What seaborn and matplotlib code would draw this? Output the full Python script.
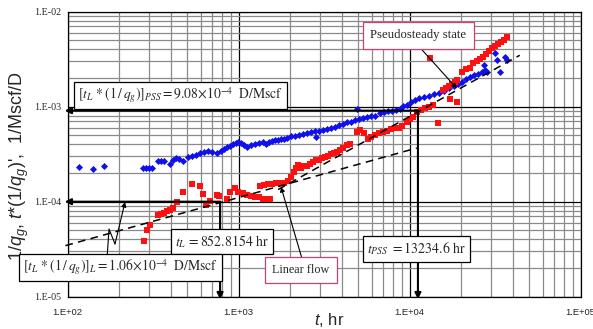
import numpy as np
import matplotlib
matplotlib.use("Agg")
import matplotlib.pyplot as plt
import matplotlib.ticker as mticker
import seaborn as sns

# ==========================================
# Data (t in hr, 1/Mscf/D)
# ==========================================

# 1/qg  (blue diamonds)
t_inv = [116, 141, 164, 277, 287, 299, 309, 337, 351, 366, 396, 413, 430, 448, 472,
         505, 533, 563, 594, 627, 661, 698, 744, 788, 820, 855, 890, 927, 958, 991,
         1031, 1074, 1119, 1180, 1245, 1314, 1387, 1445, 1503, 1566, 1630, 1698, 1767,
         1841, 1915, 2023, 2134, 2254, 2377, 2507, 2649, 2793, 2831, 2951, 3112, 3281,
         3467, 3656, 3864, 4074, 4295, 4539, 4786, 4898, 5058, 5333, 5623, 5943, 6266,
         6699, 7079, 7464, 7888, 8318, 8770, 9141, 9638, 10180, 10740, 11320, 12120,
         12970, 13870, 14850, 15870, 16980, 18160, 19180, 20230, 21330, 22540, 23770,
         25060, 26490, 27540, 28310, 27160, 31480, 32360, 33730, 36060, 37070]
inv_qg = [2.30e-4, 2.21e-4, 2.38e-4, 2.26e-4, 2.26e-4, 2.26e-4, 2.26e-4, 2.68e-4, 2.68e-4,
          2.68e-4, 2.49e-4, 2.78e-4, 2.85e-4, 2.82e-4, 2.70e-4, 2.98e-4, 3.03e-4, 3.10e-4,
          3.22e-4, 3.30e-4, 3.38e-4, 3.34e-4, 3.23e-4, 3.42e-4, 3.59e-4, 3.72e-4, 3.86e-4,
          4.05e-4, 4.18e-4, 4.25e-4, 4.10e-4, 3.91e-4, 3.79e-4, 3.91e-4, 4.00e-4, 4.10e-4,
          4.20e-4, 4.05e-4, 4.25e-4, 4.36e-4, 4.41e-4, 4.46e-4, 4.52e-4, 4.62e-4, 4.65e-4,
          4.88e-4, 4.92e-4, 5.04e-4, 5.16e-4, 5.28e-4, 5.42e-4, 5.55e-4, 4.83e-4, 5.61e-4,
          5.69e-4, 5.82e-4, 5.97e-4, 6.11e-4, 6.41e-4, 6.65e-4, 6.82e-4, 6.98e-4, 7.24e-4,
          9.39e-4, 7.43e-4, 7.60e-4, 7.80e-4, 7.89e-4, 8.07e-4, 8.53e-4, 8.69e-4, 8.90e-4,
          9.02e-4, 9.12e-4, 9.35e-4, 1.02e-3, 1.04e-3, 1.12e-3, 1.18e-3, 1.22e-3, 1.26e-3,
          1.31e-3, 1.36e-3, 1.41e-3, 1.48e-3, 1.56e-3, 1.65e-3, 1.73e-3, 1.82e-3, 1.96e-3,
          2.06e-3, 2.13e-3, 2.21e-3, 2.29e-3, 2.43e-3, 2.32e-3, 2.75e-3, 3.65e-3, 3.10e-3,
          2.33e-3, 3.36e-3, 3.10e-3]

# t*(1/qg)'  (red squares)
t_der = [279, 290, 303, 337, 351, 366, 381, 396, 413, 434, 474, 531, 594, 621, 644, 679,
         744, 767, 851, 890, 951, 995, 1059, 1119, 1180, 1245, 1314, 1387, 1462, 1524,
         1334, 1406, 1485, 1566, 1652, 1746, 1841, 1941, 2023, 2109, 2163, 2223, 2312,
         2411, 2512, 2612, 2723, 2831, 2951, 3069, 3199, 3327, 3467, 3606, 3758, 3908,
         4074, 4295, 4477, 4920, 5129, 5408, 5715, 5943, 6266, 6607, 6982, 7362, 7762,
         8204, 8650, 9016, 9594, 10046, 10450, 11040, 11640, 12300, 12970, 13680, 14650,
         13150, 15700, 16290, 16980, 17660, 18410, 18920, 17220, 18830, 20230, 21330,
         22540, 23440, 24770, 25760, 26850, 27920, 29110, 30270, 31550, 32810, 34200,
         35560, 37070]
der = [3.85e-5, 5.04e-5, 5.69e-5, 7.24e-5, 7.43e-5, 7.60e-5, 7.89e-5, 8.18e-5, 8.53e-5,
       1.00e-4, 1.26e-4, 1.52e-4, 1.46e-4, 1.20e-4, 9.23e-5, 1.02e-4, 1.18e-4, 1.15e-4,
       1.07e-4, 1.26e-4, 1.38e-4, 1.27e-4, 1.22e-4, 1.18e-4, 1.15e-4, 1.13e-4, 1.11e-4,
       1.08e-4, 1.07e-4, 1.07e-4, 1.47e-4, 1.50e-4, 1.52e-4, 1.54e-4, 1.56e-4, 1.56e-4,
       1.57e-4, 1.65e-4, 1.82e-4, 2.06e-4, 2.26e-4, 2.43e-4, 2.26e-4, 2.38e-4, 2.40e-4,
       2.52e-4, 2.62e-4, 2.75e-4, 2.78e-4, 2.85e-4, 2.96e-4, 3.03e-4, 3.14e-4, 3.22e-4,
       3.34e-4, 3.50e-4, 3.67e-4, 3.95e-4, 4.05e-4, 5.42e-4, 5.69e-4, 5.28e-4, 4.57e-4,
       4.80e-4, 5.04e-4, 5.28e-4, 5.42e-4, 5.61e-4, 5.82e-4, 5.90e-4, 5.97e-4, 6.27e-4,
       6.95e-4, 7.43e-4, 7.85e-4, 8.79e-4, 9.23e-4, 9.57e-4, 1.00e-3, 1.04e-3, 6.68e-4,
       3.28e-3, 1.50e-3, 1.57e-3, 1.65e-3, 1.73e-3, 1.82e-3, 1.91e-3, 1.20e-3, 1.13e-3,
       2.33e-3, 2.49e-3, 2.55e-3, 2.86e-3, 3.03e-3, 3.18e-3, 3.33e-3, 3.59e-3, 3.86e-3,
       4.12e-3, 4.36e-3, 4.57e-3, 4.80e-3, 5.04e-3, 5.42e-3]

# straight-line fits (half slope = linear flow, unit slope = PSS)
half_coef, half_range = 3.5e-6, (97, 11000)
unit_coef, unit_range = 7.9e-8, (1700, 44000)

# read-off values
tL_pix, yL_pix = 778, 1.0e-4
tPSS_pix, yPSS = 11170, 9.08e-4

# ==========================================
# Plot
# ==========================================

sns.set_style("white")
plt.rcParams["font.family"] = ["Liberation Serif", "DejaVu Serif"]
plt.rcParams["mathtext.fontset"] = "custom"
plt.rcParams["mathtext.rm"] = "Liberation Sans"
plt.rcParams["mathtext.it"] = "Liberation Sans:italic"

fig = plt.figure(figsize=(5.93, 3.29), dpi=100)
ax = fig.add_axes([0.1142, 0.0982, 0.8651, 0.8663])
ax.set_xscale("log")
ax.set_yscale("log")
ax.set_xlim(1e2, 1e5)
ax.set_ylim(1e-5, 1e-2)

ax.grid(True, which="minor", color="#8a8a8a", lw=0.9)
ax.grid(True, which="major", color="black", lw=0.9)
ax.set_axisbelow(True)
for s in ax.spines.values():
    s.set_color("black")
    s.set_linewidth(0.9)

sns.scatterplot(x=t_inv, y=inv_qg, ax=ax, marker="D", color="#1010ee",
                s=13, linewidth=0, zorder=3)
sns.scatterplot(x=t_der, y=der, ax=ax, marker="s", color="#ff1010",
                s=17, linewidth=0, zorder=4)

th = np.geomspace(*half_range, 50)
tu = np.geomspace(*unit_range, 50)
ax.plot(th, half_coef * np.sqrt(th), ls=(0, (5, 3.5)), color="black", lw=1.1,
        zorder=5, clip_on=False)
ax.plot(tu, unit_coef * tu, ls=(0, (5, 3.5)), color="black", lw=1.1, zorder=5)

# tick labels
fmt = mticker.FuncFormatter(lambda v, p: "1.E%+03d" % round(np.log10(v)))
ax.xaxis.set_major_formatter(fmt)
ax.yaxis.set_major_formatter(fmt)
ax.xaxis.set_minor_formatter(mticker.NullFormatter())
ax.yaxis.set_minor_formatter(mticker.NullFormatter())
ax.tick_params(which="major", direction="out", length=3, width=0.9, color="black")
ax.tick_params(which="minor", length=0)
ax.tick_params(axis="x", pad=5, labelsize=6.8)
ax.tick_params(axis="y", pad=2, labelsize=7.2)
for lab in ax.get_xticklabels():
    lab.set_family("Liberation Sans")

ax.set_xlabel("$t$, hr", fontsize=12, family="Liberation Sans", va="center")
ax.xaxis.set_label_coords(0.509, -0.083)
ax.set_ylabel("$1/q_g$, $t$*(1/$q_g$)',  1/Mscf/D", fontsize=13,
              family="Liberation Sans", va="center")
ax.yaxis.set_label_coords(-0.095, 0.459)

# arrows for the read-off lines
arr = dict(arrowstyle="-|>", color="black", lw=1.5, mutation_scale=9,
           shrinkA=0, shrinkB=0)
ax.annotate("", xy=(96, yPSS), xytext=(tPSS_pix, yPSS), arrowprops=arr,
            annotation_clip=False, zorder=6)
ax.annotate("", xy=(tPSS_pix, 9.4e-6), xytext=(tPSS_pix, yPSS), arrowprops=arr,
            annotation_clip=False, zorder=6)
ax.annotate("", xy=(96, yL_pix), xytext=(tL_pix, yL_pix), arrowprops=arr,
            annotation_clip=False, zorder=6)
ax.annotate("", xy=(tL_pix, 9.4e-6), xytext=(tL_pix, yL_pix), arrowprops=arr,
            annotation_clip=False, zorder=6)

# zig-zag pointer to the linear-flow level
ax.plot([169.8, 174.4, 189], [2.55e-5, 5.16e-5, 3.59e-5], color="black", lw=0.8, zorder=6)
thin = dict(arrowstyle="-|>", color="black", lw=0.8, mutation_scale=7,
            shrinkA=0, shrinkB=0)
ax.annotate("", xy=(216.4, 9.93e-5), xytext=(189, 3.59e-5), arrowprops=thin, zorder=6)
ax.annotate("", xy=(1767, 1.43e-4), xytext=(2336, 2.57e-5), arrowprops=thin, zorder=6)
ax.annotate("", xy=(18830, 1.56e-3), xytext=(11220, 4.39e-3), arrowprops=thin, zorder=6)

# text boxes
box_k = dict(boxstyle="square,pad=0.3", fc="white", ec="black", lw=0.9)
box_r = dict(boxstyle="square,pad=0.6", fc="white", ec="#d0406a", lw=0.9)
txt = dict(ha="center", va="center", zorder=7, math_fontfamily="stix")

ax.text(457, 1.31e-3,
        r"$[t_L\,*(1\,/\,q_g)]_{PSS} = 9.08{\times}10^{-4}\ \ \mathrm{D/Mscf}$",
        fontsize=9.8, bbox=box_k, **txt)
ax.text(799, 3.79e-5, r"$t_L\, = 852.8154\ \mathrm{hr}$",
        fontsize=10, bbox=box_k, **txt)
ax.text(204, 2.03e-5,
        r"$[t_L\,*(1\,/\,q_g)]_L = 1.06{\times}10^{-4}\ \ \mathrm{D/Mscf}$",
        fontsize=9.8, bbox=box_k, **txt)
ax.text(10940, 3.18e-5, r"$t_{PSS}\ = 13234.6\ \mathrm{hr}$",
        fontsize=10, bbox=box_k, **txt)
ax.text(2313, 1.92e-5, "Linear flow", fontsize=8.7, bbox=box_r, **txt)
ax.text(11250, 5.65e-3, "Pseudosteady state", fontsize=9.2, bbox=box_r, **txt)

plt.savefig("out.png", dpi=100)
